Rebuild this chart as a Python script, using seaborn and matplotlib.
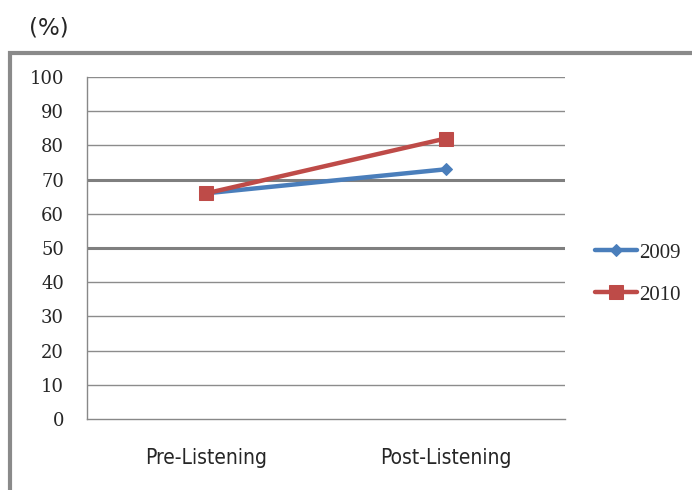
import matplotlib
matplotlib.use("Agg")
import matplotlib.pyplot as plt
from matplotlib.patches import Rectangle
import seaborn as sns
import pandas as pd

# Data
phases = ["Pre-Listening", "Post-Listening"]
scores_2009 = [66, 73]
scores_2010 = [66, 82]
series_names = ["2009", "2010"]

df = pd.DataFrame({
    "phase": phases * 2,
    "score": scores_2009 + scores_2010,
    "year": [series_names[0]] * 2 + [series_names[1]] * 2,
})

sns.set_theme(style="white")
plt.rcParams["font.family"] = ["DejaVu Sans"]

fig = plt.figure(figsize=(6.92, 4.90), dpi=100)
ax = fig.add_axes([0.1257, 0.1449, 0.8165 - 0.1257, 0.8429 - 0.1449])

palette = {"2009": "#4A7EBB", "2010": "#BE4B48"}
markers = {"2009": "D", "2010": "s"}
sizes = {"2009": 6.5, "2010": 10}

for name in series_names:
    sub = df[df["year"] == name]
    sns.lineplot(data=sub, x="phase", y="score", ax=ax, color=palette[name],
                 marker=markers[name], markersize=sizes[name], linewidth=3.2,
                 markeredgecolor=palette[name], label=name, sort=False, zorder=3)

ax.set_xlim(-0.5, 1.5)
ax.set_ylim(0, 100)
ax.set_yticks(range(0, 101, 10))
ax.set_xticks([0, 1])
ax.set_xticklabels(phases, family=["DejaVu Sans"], fontstretch="condensed", fontsize=15)
ax.set_xticks([-0.5, 0.5, 1.5], minor=True)
ax.tick_params(axis="x", which="major", length=0, pad=21)
ax.tick_params(axis="x", which="minor", length=6.5, color="#888888", width=1, direction="out")
ax.tick_params(axis="y", length=6.5, color="#888888", width=1, direction="out", pad=10)
for lbl in ax.get_yticklabels():
    lbl.set_family(["DejaVu Serif"])
    lbl.set_fontsize(13)
ax.set_xlabel("")
ax.set_ylabel("")

# horizontal gridlines
for v in range(10, 101, 10):
    heavy = v in (50, 70)
    ax.axhline(v, color="#7f7f7f" if heavy else "#8c8c8c",
               linewidth=2.2 if heavy else 1.0, zorder=1)

for side in ["top", "right"]:
    ax.spines[side].set_visible(False)
ax.spines["left"].set_color("#888888")
ax.spines["bottom"].set_color("#888888")
ax.spines["left"].set_linewidth(1)
ax.spines["bottom"].set_linewidth(1)

# legend
handles, labels = ax.get_legend_handles_labels()
if ax.get_legend():
    ax.get_legend().remove()
fig.legend(handles, labels, loc="center left", bbox_to_anchor=(0.836, 0.441),
           frameon=False, handlelength=2.0, handletextpad=0.1, labelspacing=1.08,
           borderpad=0.3, prop={"family": ["Liberation Serif", "DejaVu Serif"], "size": 15})

# outer chart frame
fig.patches.append(Rectangle((10 / 692, -0.05), 1.0, 1 - 53 / 490 + 0.05,
                             transform=fig.transFigure, fill=False,
                             edgecolor="#8a8a8a", linewidth=3))

fig.text(29 / 692, 1 - 28 / 490, "(%)", fontsize=16.5, va="center", ha="left",
         family=["DejaVu Sans"])

fig.savefig("out.png", dpi=100)
